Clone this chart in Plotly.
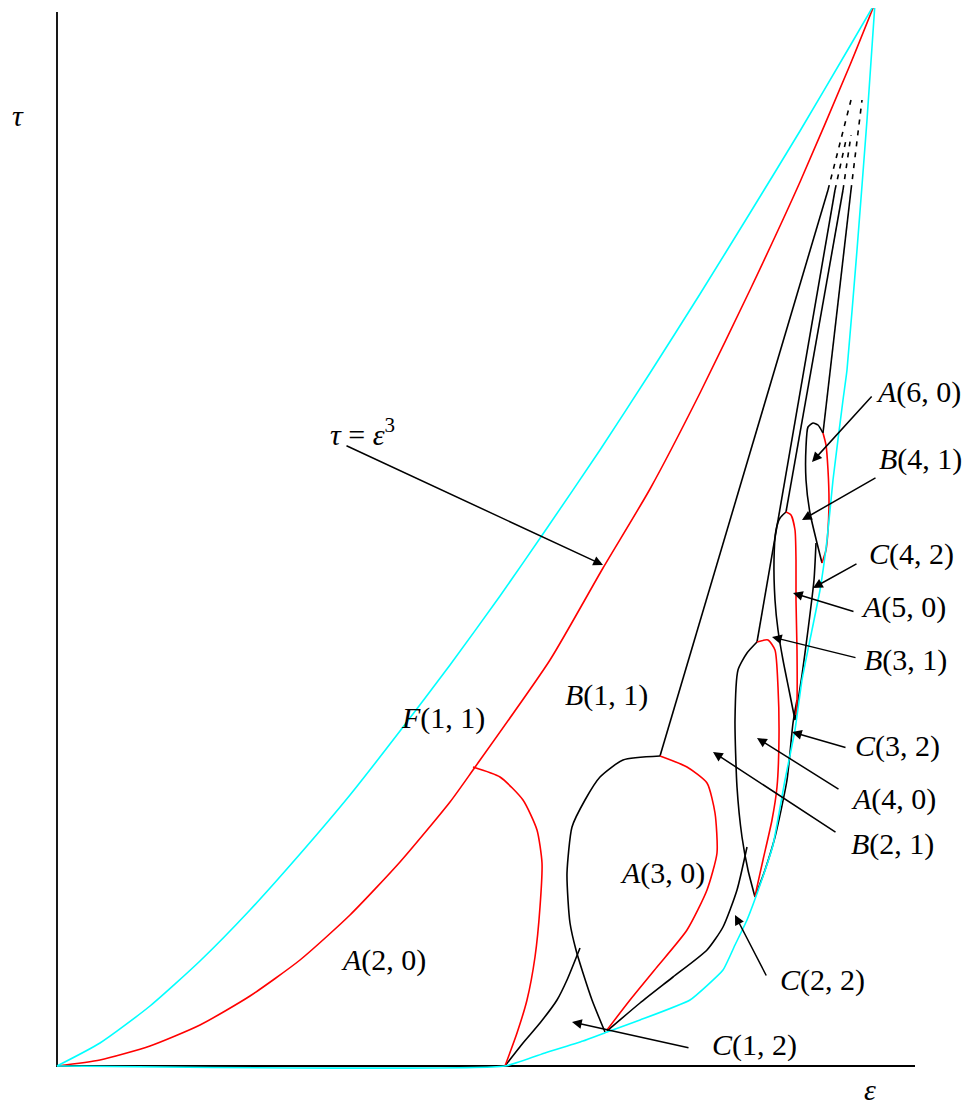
import plotly.graph_objects as go

axis_x = [57, 57, 915]
axis_y = [12, 1066, 1066]

upper_cyan_x = [57, 100, 150, 200, 250, 300, 350, 400, 450, 500, 545, 600, 650, 700, 750, 800, 850, 875]
upper_cyan_y = [1066, 1043, 1006, 961, 910, 854, 795, 731, 665, 596, 531, 450, 373, 294, 213, 131, 46, 3]

lower_cyan_x = [57, 505, 545, 583, 607, 640, 690, 723, 735, 747, 760, 773, 785, 795, 802, 812, 820, 827, 833, 843, 847, 857, 867, 875]
lower_cyan_y = [1066, 1066, 1053, 1041, 1032, 1020, 1000, 970, 945, 920, 885, 845, 780, 730, 680, 630, 590, 540, 480, 400, 370, 250, 120, 3]

red_main_x = [57, 100, 150, 200, 250, 300, 350, 400, 450, 473, 550, 603, 650, 700, 750, 800, 850, 875]
red_main_y = [1066, 1060, 1046, 1025, 996, 960, 915, 862, 802, 770, 660, 568, 489, 393, 290, 182, 65, 3]

red_branch_x = [473, 500, 523, 537, 542, 540, 535, 527, 517, 505]
red_branch_y = [767, 777, 800, 830, 863, 907, 957, 1000, 1033, 1066]

a3_black_x = [660, 623, 600, 585, 572, 567, 568, 570, 576, 583, 592, 600, 605]
a3_black_y = [756, 760, 777, 800, 827, 873, 900, 923, 950, 973, 1000, 1020, 1032]
a3_red_x = [660, 687, 707, 715, 717, 707, 687, 657, 630, 607]
a3_red_y = [756, 767, 783, 813, 853, 890, 930, 967, 1000, 1030]

c12_x = [580, 567, 557, 540, 523, 505]
c12_y = [948, 980, 1000, 1023, 1043, 1066]
c22_x = [747, 737, 723, 707, 673, 640, 607]
c22_y = [847, 890, 927, 950, 977, 1003, 1031]
c32_x = [797, 793, 787, 775, 765, 755]
c32_y = [700, 723, 780, 837, 870, 897]
c42_x = [816, 814, 808, 802, 795]
c42_y = [543, 580, 630, 675, 720]

a4_black_x = [757, 747, 738, 735, 737, 742, 748, 755]
a4_black_y = [642, 653, 670, 720, 787, 837, 870, 897]
a4_red_x = [757, 768, 775, 778, 779, 777, 772, 763, 757, 755]
a4_red_y = [642, 640, 650, 687, 737, 787, 820, 860, 887, 897]

a5_black_x = [786, 780, 776, 774, 775, 778, 783, 789, 795]
a5_black_y = [512, 518, 530, 560, 600, 630, 660, 690, 720]
a5_red_x = [786, 791, 795, 796, 796, 797, 797, 796]
a5_red_y = [512, 515, 530, 560, 600, 650, 700, 715]

a6_black_x = [823, 818, 813, 808, 806, 806, 810, 817, 822]
a6_black_y = [433, 425, 423, 427, 447, 480, 513, 543, 563]
a6_red_x = [823, 826, 828, 829, 828, 826, 822]
a6_red_y = [433, 445, 470, 500, 530, 550, 563]

# straight branches toward the upper corner: (bottom end, solid top, dashed top)
branch_bottom_x = [660, 757, 786, 823]
branch_bottom_y = [756, 642, 512, 433]
branch_top_x = [828, 835, 843, 851]
branch_top_y = [190, 190, 190, 190]
dash_end_x = [851, 846, 851, 862]
dash_end_y = [100, 140, 135, 100]

labels = ["<i>A</i>(6, 0)", "<i>B</i>(4, 1)", "<i>C</i>(4, 2)", "<i>A</i>(5, 0)", "<i>B</i>(3, 1)",
          "<i>C</i>(3, 2)", "<i>A</i>(4, 0)", "<i>B</i>(2, 1)", "<i>C</i>(2, 2)", "<i>C</i>(1, 2)",
          "<i>A</i>(3, 0)", "<i>A</i>(2, 0)", "<i>B</i>(1, 1)", "<i>F</i>(1, 1)",
          "<i>τ</i> = <i>ε</i><sup>3</sup>", "<i>τ</i>"]
label_x = [918, 920, 911, 903, 905, 897, 893, 892, 822, 754, 662, 383, 606, 443, 362, 18]
label_y = [392, 459, 554, 607, 660, 746, 799, 844, 980, 1045, 873, 960, 695, 718, 432, 115]
x_axis_label = "<i>ε</i>"
x_axis_label_x = 870
x_axis_label_bottom = 1108

arrow_head_x = [812, 802, 813, 793, 772, 792, 757, 713, 735, 572, 603]
arrow_head_y = [462, 520, 588, 593, 637, 732, 738, 752, 915, 1022, 565]
arrow_tail_x = [873, 877, 858, 855, 857, 847, 840, 837, 767, 690, 345]
arrow_tail_y = [395, 477, 563, 612, 658, 748, 790, 833, 977, 1048, 445]

CYAN = "#00FFFF"
RED = "#FF0000"
BLACK = "#000000"
LW = 1.6

# page has an 8px body margin; the figure is sized/ranged so data units equal page pixels
PAGE_W, PAGE_H, BODY = 971, 1117, 8
FIG_W, FIG_H = PAGE_W - 2 * BODY, PAGE_H - 2 * BODY

fig = go.Figure()

def add(x, y, color, dash=None, width=LW, smoothing=0.6):
    fig.add_trace(go.Scatter(x=x, y=y, mode="lines", hoverinfo="skip",
                             line=dict(color=color, width=width, dash=dash, shape="spline",
                                       smoothing=smoothing)))

# axes
fig.add_trace(go.Scatter(x=axis_x, y=axis_y, mode="lines", hoverinfo="skip",
                         line=dict(color=BLACK, width=1.8)))

# black curves
for bx, by, tx, ty in zip(branch_bottom_x, branch_bottom_y, branch_top_x, branch_top_y):
    fig.add_trace(go.Scatter(x=[bx, tx], y=[by, ty], mode="lines", hoverinfo="skip",
                             line=dict(color=BLACK, width=LW)))
for tx, ty, dx, dy in zip(branch_top_x, branch_top_y, dash_end_x, dash_end_y):
    fig.add_trace(go.Scatter(x=[tx, dx], y=[ty, dy], mode="lines", hoverinfo="skip",
                             line=dict(color=BLACK, width=LW, dash="5px,6px")))
for cx, cy in [(a3_black_x, a3_black_y), (a4_black_x, a4_black_y), (a5_black_x, a5_black_y),
               (a6_black_x, a6_black_y), (c12_x, c12_y), (c22_x, c22_y), (c32_x, c32_y), (c42_x, c42_y)]:
    add(cx, cy, BLACK)

# red curves
for cx, cy in [(red_main_x, red_main_y), (red_branch_x, red_branch_y), (a3_red_x, a3_red_y),
               (a4_red_x, a4_red_y), (a5_red_x, a5_red_y), (a6_red_x, a6_red_y)]:
    add(cx, cy, RED)

# cyan curves
add(upper_cyan_x, upper_cyan_y, CYAN)
add(lower_cyan_x, lower_cyan_y, CYAN, smoothing=0.4)

FONT = dict(family="Liberation Serif", size=30, color=BLACK)
annotations = []
for t, x, y in zip(labels, label_x, label_y):
    annotations.append(dict(x=x, y=y, xref="x", yref="y", text=t, showarrow=False,
                            xanchor="center", yanchor="middle", font=FONT))
annotations.append(dict(x=x_axis_label_x, y=x_axis_label_bottom, xref="x", yref="y",
                        text=x_axis_label, showarrow=False, xanchor="center", yanchor="bottom",
                        font=FONT))
for hx, hy, tx, ty in zip(arrow_head_x, arrow_head_y, arrow_tail_x, arrow_tail_y):
    annotations.append(dict(x=hx, y=hy, ax=tx, ay=ty, xref="x", yref="y", axref="x", ayref="y",
                            text="", showarrow=True, arrowhead=2, arrowsize=1.3, arrowwidth=1.5,
                            arrowcolor=BLACK, standoff=0, startstandoff=0))

fig.update_layout(
    width=FIG_W, height=FIG_H, margin=dict(l=0, r=0, t=0, b=0, pad=0),
    paper_bgcolor="white", plot_bgcolor="white", showlegend=False,
    xaxis=dict(range=[BODY, BODY + FIG_W], visible=False, fixedrange=True),
    yaxis=dict(range=[BODY + FIG_H, BODY], visible=False, fixedrange=True),
    annotations=annotations,
)

fig.write_html("out.html")
